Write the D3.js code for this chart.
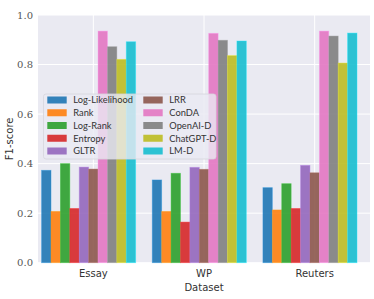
<!DOCTYPE html>
<html><head><meta charset="utf-8">
<script src="https://cdn.jsdelivr.net/npm/d3@7"></script>
<style>body{margin:0;background:#fff}svg{display:block}</style>
</head><body>
<svg id="c" width="374" height="299"></svg>
<script>
const datasets = ["Essay", "WP", "Reuters"];
const methods = ["Log-Likelihood","Rank","Log-Rank","Entropy","GLTR","LRR","ConDA","OpenAI-D","ChatGPT-D","LM-D"];
const colors = ["#1f77b4","#ff7f0e","#2ca02c","#d62728","#9467bd","#8c564b","#e377c2","#7f7f7f","#bcbd22","#17becf"];
const essay   = [0.373,0.207,0.400,0.219,0.386,0.378,0.935,0.872,0.821,0.892];
const wp      = [0.334,0.207,0.361,0.164,0.385,0.377,0.926,0.898,0.836,0.895];
const reuters = [0.303,0.213,0.319,0.219,0.393,0.363,0.935,0.915,0.806,0.927];
const series = [essay, wp, reuters];
const yTicks = [0.0,0.2,0.4,0.6,0.8,1.0];

const svg = d3.select("#c");
const L = 38, R = 370, T = 15, B = 262.7;
const x = d3.scaleLinear().domain([-0.5, 2.5]).range([L, R]);
const y = d3.scaleLinear().domain([0, 1]).range([B, T]);
const bw = 0.085;

svg.append("rect").attr("x",L).attr("y",T).attr("width",R-L).attr("height",B-T).attr("fill","#eaeaf2");
// grid
svg.append("g").selectAll("line").data(yTicks).join("line")
  .attr("x1",L).attr("x2",R).attr("y1",d=>y(d)).attr("y2",d=>y(d))
  .attr("stroke","#fff").attr("stroke-width",1);
svg.append("g").selectAll("line").data(datasets).join("line")
  .attr("x1",(d,i)=>x(i)).attr("x2",(d,i)=>x(i)).attr("y1",T).attr("y2",B)
  .attr("stroke","#fff").attr("stroke-width",1);

// bars
const bars = [];
series.forEach((vals,gi)=>vals.forEach((v,mi)=>bars.push({gi,mi,v})));
svg.append("g").selectAll("rect").data(bars).join("rect")
  .attr("x",d=>x(d.gi + (d.mi-5)*bw - bw/2))
  .attr("width",d=>x(bw)-x(0))
  .attr("y",d=>y(d.v))
  .attr("height",d=>y(0)-y(d.v))
  .attr("fill",d=>colors[d.mi]).attr("fill-opacity",0.9)
  .attr("stroke",d=>d3.color(colors[d.mi]).brighter(0.6)).attr("stroke-opacity",0.5).attr("stroke-width",0.8);

// y tick labels
svg.append("g").selectAll("text").data(yTicks).join("text")
  .attr("x",33).attr("y",d=>y(d)).attr("dy","0.35em").attr("text-anchor","end")
  .attr("font-family","DejaVu Serif").attr("font-size",10).attr("fill","#555")
  .text(d=>d.toFixed(1));
// x tick labels
svg.append("g").selectAll("text").data(datasets).join("text")
  .attr("x",(d,i)=>x(i)).attr("y",273).attr("dy","0.35em").attr("text-anchor","middle")
  .attr("font-family","DejaVu Sans").attr("font-size",10).attr("fill","#333")
  .text(d=>d);
svg.append("text").attr("x",(L+R)/2).attr("y",287).attr("dy","0.35em").attr("text-anchor","middle")
  .attr("font-family","DejaVu Sans").attr("font-size",10).attr("fill","#333").text("Dataset");
svg.append("text").attr("transform",`translate(9,${(T+B)/2}) rotate(-90)`).attr("dy","0.35em")
  .attr("text-anchor","middle").attr("font-family","DejaVu Sans").attr("font-size",10).attr("fill","#333").text("F1-score");

// legend
const lg = svg.append("g");
lg.append("rect").attr("x",43.5).attr("y",94).attr("width",172.5).attr("height",65).attr("rx",2.5)
  .attr("fill","#eaeaf2").attr("fill-opacity",0.8).attr("stroke","#d6d6dc").attr("stroke-width",0.8);
const items = lg.selectAll("g").data(methods).join("g")
  .attr("transform",(d,i)=>`translate(${i<5?47.3:143.3},${100 + (i%5)*12.75})`);
items.append("rect").attr("x",0).attr("y",-3.5).attr("width",19.4).attr("height",7)
  .attr("fill",(d,i)=>colors[i]).attr("fill-opacity",0.9);
items.append("text").attr("x",26).attr("y",0).attr("dy","0.35em")
  .attr("font-family","Lato").attr("font-size",9.3).attr("fill","#333").text(d=>d);
</script>
</body></html>
